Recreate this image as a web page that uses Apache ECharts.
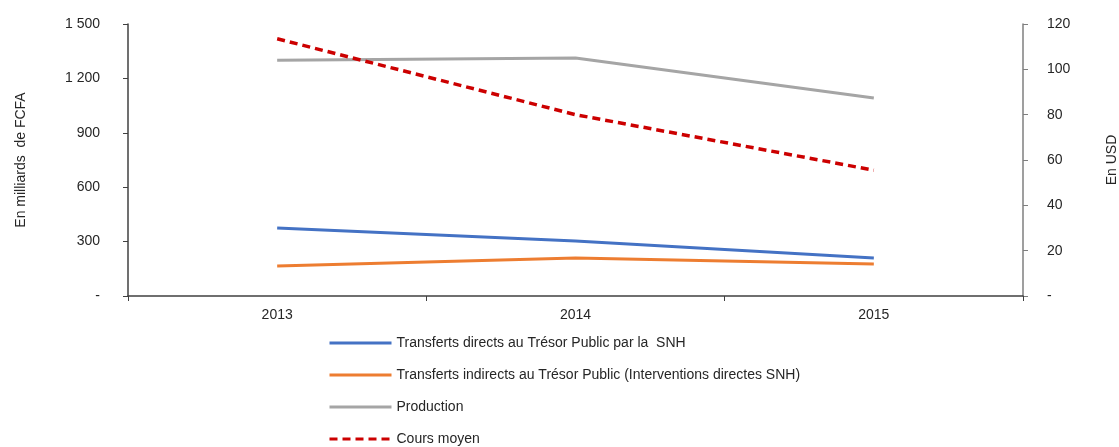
<!DOCTYPE html>
<html>
<head>
<meta charset="utf-8">
<script src="https://cdn.jsdelivr.net/npm/echarts@6/dist/echarts.min.js"></script>
<style>
  html, body { margin: 0; padding: 0; background: #fff; }
  #chart { width: 1119px; height: 447px; }
</style>
</head>
<body>
<div id="chart"></div>
<script>
// data
const years = ["2013", "2014", "2015"];
const transfertsDirects = [375, 303, 210];
const transfertsIndirects = [165, 210, 176];
const production = [1300, 1312, 1092];
const coursMoyen = [113.5, 80, 55.5];

const seriesNames = [
  "Transferts directs au Trésor Public par la  SNH",
  "Transferts indirects au Trésor Public (Interventions directes SNH)",
  "Production",
  "Cours moyen",
];

const font = "Liberation Sans, Arial, sans-serif";

function leftFmt(v) {
  if (v === 0) return "-";
  if (v >= 1000) return Math.floor(v / 1000) + " " + String(v % 1000).padStart(3, "0");
  return String(v);
}

const chart = echarts.init(document.getElementById("chart"));

const option = {
  animation: false,
  textStyle: { fontFamily: font },
  grid: { left: 128, right: 96, top: 24, bottom: 151, outerBoundsMode: "none", containLabel: false },
  legend: {
    orient: "vertical",
    left: 328,
    top: 336,
    height: 160,
    padding: 0,
    itemWidth: 62,
    itemHeight: 14,
    itemGap: 18,
    itemStyle: { opacity: 0 },
    lineStyle: { width: 3 },
    textStyle: { fontFamily: font, fontSize: 14, color: "#262626" },
    data: seriesNames,
  },
  xAxis: {
    type: "category",
    data: years,
    boundaryGap: true,
    axisLine: { lineStyle: { color: "#404040", width: 1.5 } },
    axisTick: { show: true, length: 5, lineStyle: { color: "#404040" } },
    axisLabel: { fontSize: 14, color: "#262626", margin: 12, fontFamily: font },
  },
  yAxis: [
    {
      type: "value",
      min: 0,
      max: 1500,
      interval: 300,
      name: "En milliards  de FCFA",
      nameLocation: "middle",
      nameGap: 100,
      nameTextStyle: { fontSize: 14, color: "#262626", fontFamily: font },
      splitLine: { show: false },
      axisLine: { show: true, lineStyle: { color: "#404040", width: 1.5 } },
      axisTick: { show: true, length: 5, lineStyle: { color: "#404040" } },
      axisLabel: { fontSize: 14, color: "#262626", margin: 28, formatter: leftFmt, fontFamily: font },
    },
    {
      type: "value",
      min: 0,
      max: 120,
      interval: 20,
      position: "right",
      name: "En USD",
      nameLocation: "middle",
      nameGap: 82,
      nameTextStyle: { fontSize: 14, color: "#262626", fontFamily: font },
      splitLine: { show: false },
      axisLine: { show: true, lineStyle: { color: "#7f7f7f", width: 1.5 } },
      axisTick: { show: true, length: 5, lineStyle: { color: "#7f7f7f" } },
      axisLabel: {
        fontSize: 14,
        color: "#262626",
        margin: 24,
        fontFamily: font,
        formatter: (v) => (v === 0 ? "-" : String(v)),
      },
    },
  ],
  series: [
    {
      name: seriesNames[0],
      type: "line",
      data: transfertsDirects,
      symbol: "none",
      color: "#4472C4",
      lineStyle: { width: 3, color: "#4472C4" },
    },
    {
      name: seriesNames[1],
      type: "line",
      data: transfertsIndirects,
      symbol: "none",
      color: "#ED7D31",
      lineStyle: { width: 3, color: "#ED7D31" },
    },
    {
      name: seriesNames[2],
      type: "line",
      data: production,
      symbol: "none",
      color: "#A5A5A5",
      lineStyle: { width: 3, color: "#A5A5A5" },
    },
    {
      name: seriesNames[3],
      type: "line",
      yAxisIndex: 1,
      data: coursMoyen,
      symbol: "none",
      color: "#CC0000",
      lineStyle: { width: 3.5, color: "#CC0000", type: [8, 5] },
    },
  ],
};

chart.setOption(option);
</script>
</body>
</html>
